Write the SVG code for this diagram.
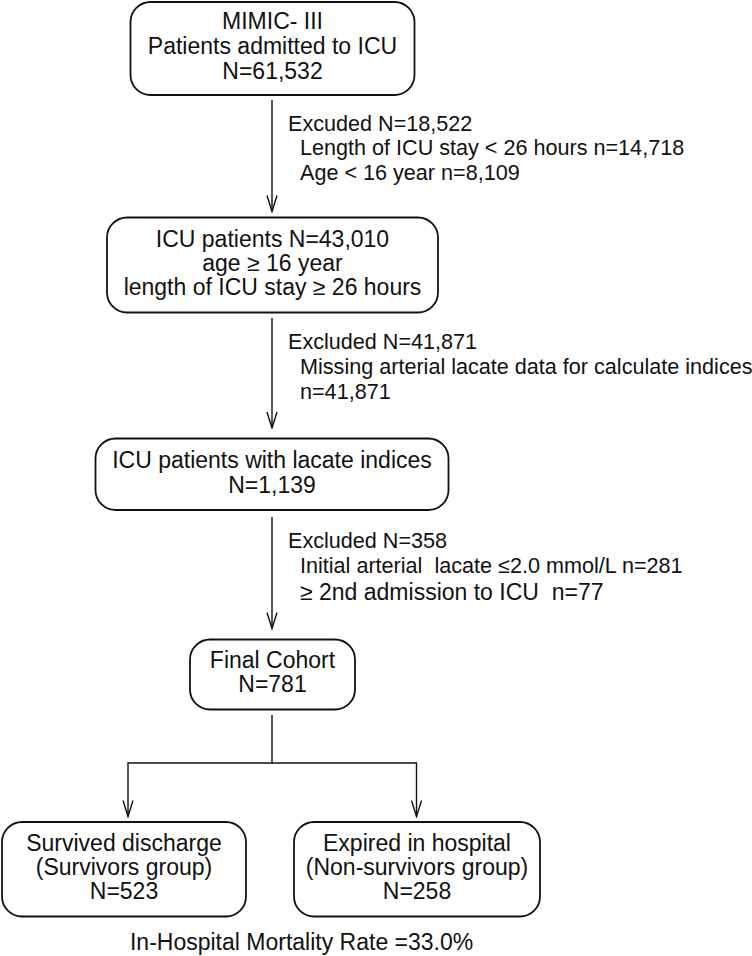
<svg xmlns="http://www.w3.org/2000/svg" width="752" height="956" viewBox="0 0 752 956">
<style>
.box{fill:#fff;stroke:#111;stroke-width:1.8}
.ln{fill:none;stroke:#111;stroke-width:1.4}
.t{font-family:"Liberation Sans",Arial,sans-serif;font-size:23px;fill:#111;text-anchor:middle}
.s{font-family:"Liberation Sans",Arial,sans-serif;font-size:21.6px;fill:#111}
.s2{font-size:23px}
</style>
<defs>
<marker id="ah" viewBox="0 0 18 12" refX="17" refY="6" markerWidth="18" markerHeight="12" markerUnits="userSpaceOnUse" orient="auto">
<path d="M1,1 L17,6 L1,11" fill="none" stroke="#111" stroke-width="1.4"/>
</marker>
</defs>
<rect width="752" height="956" fill="#fff"/>
<g id="connectors">
<line class="ln" x1="272" y1="100" x2="272" y2="211.5" marker-end="url(#ah)"/>
<line class="ln" x1="272" y1="318" x2="272" y2="428" marker-end="url(#ah)"/>
<line class="ln" x1="272" y1="517" x2="272" y2="628.5" marker-end="url(#ah)"/>
<polyline class="ln" points="272,715 272,763 128,763 128,816.5" marker-end="url(#ah)"/>
<polyline class="ln" points="272,763 416.5,763 416.5,816.5" marker-end="url(#ah)"/>
</g>
<g id="box1">
<rect class="box" x="130.5" y="2" width="284" height="93" rx="20"/>
<text class="t" x="272.5" y="29">MIMIC- III</text>
<text class="t" x="272.5" y="54">Patients admitted to ICU</text>
<text class="t" x="272.5" y="79">N=61,532</text>
</g>
<g id="excl1">
<text class="s" x="288" y="130.7">Excuded N=18,522</text>
<text class="s" x="300" y="154.5">Length of ICU stay &lt; 26 hours n=14,718</text>
<text class="s" x="300" y="180">Age &lt; 16 year n=8,109</text>
</g>
<g id="box2">
<rect class="box" x="107" y="217.5" width="331" height="95" rx="20"/>
<text class="t" x="272.5" y="246.5">ICU patients N=43,010</text>
<text class="t" x="272.5" y="270.5">age ≥ 16 year</text>
<text class="t" x="272.5" y="295">length of ICU stay ≥ 26 hours</text>
</g>
<g id="excl2">
<text class="s" x="288" y="349.3">Excluded N=41,871</text>
<text class="s" x="300" y="374.3">Missing arterial lacate data for calculate indices</text>
<text class="s" x="300" y="399">n=41,871</text>
</g>
<g id="box3">
<rect class="box" x="95.5" y="438.5" width="353" height="71.5" rx="20"/>
<text class="t" x="272" y="467.7">ICU patients with lacate indices</text>
<text class="t" x="272" y="492.7">N=1,139</text>
</g>
<g id="excl3">
<text class="s" x="288" y="548.3">Excluded N=358</text>
<text class="s" x="300" y="572.7" xml:space="preserve">Initial arterial  lacate ≤2.0 mmol/L n=281</text>
<text class="s s2" x="300" y="600" xml:space="preserve">≥ 2nd admission to ICU  n=77</text>
</g>
<g id="box4">
<rect class="box" x="190" y="639.5" width="165" height="70" rx="20"/>
<text class="t" x="272.5" y="668.3">Final Cohort</text>
<text class="t" x="272.5" y="692">N=781</text>
</g>
<g id="box5">
<rect class="box" x="2" y="822" width="244" height="94.5" rx="20"/>
<text class="t" x="124" y="850.7">Survived discharge</text>
<text class="t" x="124" y="875">(Survivors group)</text>
<text class="t" x="124" y="899.3">N=523</text>
</g>
<g id="box6">
<rect class="box" x="294" y="822" width="246" height="94.5" rx="20"/>
<text class="t" x="417" y="850.7">Expired in hospital</text>
<text class="t" x="417" y="875">(Non-survivors group)</text>
<text class="t" x="417" y="899.3">N=258</text>
</g>
<g id="footer">
<text class="t" x="301.6" y="950">In-Hospital Mortality Rate =33.0%</text>
</g>
</svg>
